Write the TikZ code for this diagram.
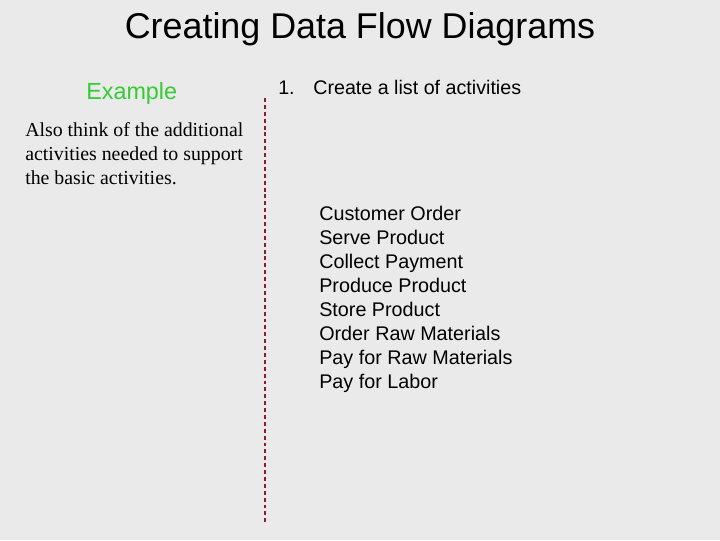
\documentclass[tikz,border=0pt]{standalone}
\usepackage{fontspec}
\setmainfont{Liberation Serif}
\setsansfont{Liberation Sans}
\usepackage{tikz}

\definecolor{slidebg}{HTML}{EAEAEA}
\definecolor{examplegreen}{HTML}{33CC33}
\definecolor{rulered}{HTML}{8C1C34}

\tikzset{
	title/.style={anchor=base, inner sep=0pt, font=\sffamily\fontsize{25.5}{30}\selectfont},
	head/.style={anchor=base west, inner sep=0pt, font=\sffamily\fontsize{14}{17}\selectfont},
	note/.style={anchor=base west, inner sep=0pt, font=\rmfamily\fontsize{14.1}{17}\selectfont},
	item/.style={anchor=base west, inner sep=0pt, font=\sffamily\fontsize{14.05}{17}\selectfont},
	divider/.style={draw=rulered, line width=0.8pt, dash pattern=on 2.8pt off 2.1pt}
}

\begin{document}
\begin{tikzpicture}[x=0.025cm, y=-0.025cm]
	% Background
	\fill[slidebg] (0,0) rectangle (720,540);
	\useasboundingbox (0,0) rectangle (720,540);
	% Title
	\node[title] (title) at (360,38) {Creating Data Flow Diagrams};
	% Left column
	\node[head, text=examplegreen, font=\sffamily\fontsize{16.6}{19}\selectfont] (example) at (86,99) {Example};
	\node[note] (note1) at (25,136) {Also think of the additional};
	\node[note] (note2) at (25,160) {activities needed to support};
	\node[note] (note3) at (25,184) {the basic activities.};
	% Divider
	\coordinate (top) at (265,98);
	\coordinate (bottom) at (265,522);
	\draw[divider] (top) -- (bottom);
	% Right column
	\node[head] (num) at (278,94) {1.};
	\node[head] (step1) at (313,94) {Create a list of activities};
	\foreach \txt [count=\i] in {Customer Order, Serve Product, Collect Payment,
		Produce Product, Store Product, Order Raw Materials,
		Pay for Raw Materials, Pay for Labor}
		\node[item] (act\i) at (319,196+24*\i) {\txt};
\end{tikzpicture}
\end{document}
